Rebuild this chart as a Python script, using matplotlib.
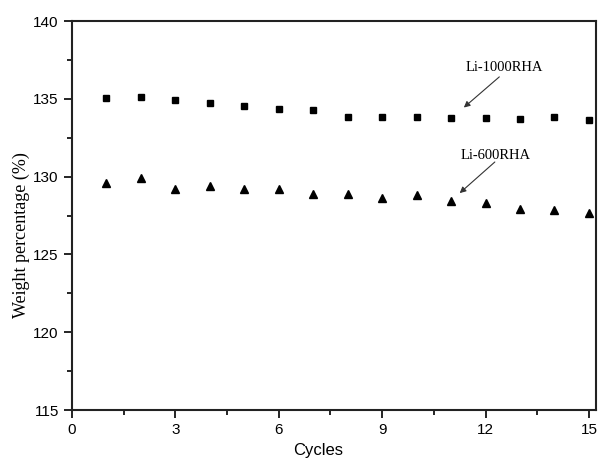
import numpy as np
import matplotlib.pyplot as plt

cycles = np.arange(1, 16)
li1000 = [135.04, 135.10, 134.93, 134.70, 134.57, 134.35, 134.25, 133.80,
          133.84, 133.82, 133.78, 133.78, 133.69, 133.80, 133.67]
li600 = [129.59, 129.91, 129.22, 129.40, 129.22, 129.22, 128.90, 128.86,
         128.62, 128.84, 128.43, 128.32, 127.91, 127.83, 127.64]

fig = plt.figure(figsize=(6, 4.61), dpi=100)
ax = fig.add_axes([0.12, 0.1106, 0.873, 0.8438])

ax.plot(cycles, li1000, 's', color='black', markersize=5, linestyle='none')
ax.plot(cycles, li600, '^', color='black', markersize=5.5, linestyle='none')

ax.set_xlim(0, 15.2)
ax.set_ylim(115, 140)
ax.set_xticks([0, 3, 6, 9, 12, 15])
ax.set_xticks(np.arange(1.5, 15, 3), minor=True)
ax.set_yticks([115, 120, 125, 130, 135, 140])
ax.set_yticks(np.arange(117.5, 140, 5), minor=True)
ax.tick_params(which='major', direction='out', length=6, width=1.2,
               labelsize=11, top=False, right=False)
ax.tick_params(which='minor', direction='out', length=3.5, width=1.2,
               top=False, right=False)
for lab in ax.get_xticklabels() + ax.get_yticklabels():
    lab.set_family('Liberation Sans')
for s in ax.spines.values():
    s.set_linewidth(1.5)
    s.set_color('#222222')

ax.set_xlabel('Cycles', family='Liberation Sans', fontsize=12, labelpad=4)
ax.xaxis.set_label_coords(0.47, -0.085)
ax.set_ylabel('Weight percentage (%)', family='Liberation Serif', fontsize=13)
ax.yaxis.set_label_coords(-0.08, 0.45)

# labels and arrows
arrow = dict(arrowstyle='-|>', color='#333333', lw=0.8, mutation_scale=9,
             shrinkA=0, shrinkB=0)
ax.text(12.56, 136.99, 'Li-1000RHA', family='Liberation Serif', fontsize=10.5,
        ha='center', va='center')
ax.annotate('', xy=(11.37, 134.44), xytext=(12.4, 136.41), arrowprops=arrow)
ax.text(12.29, 131.37, 'Li-600RHA', family='Liberation Serif', fontsize=10.5,
        ha='center', va='center')
ax.annotate('', xy=(11.25, 128.94), xytext=(12.27, 130.94), arrowprops=arrow)

fig.savefig('out.png', dpi=100)
